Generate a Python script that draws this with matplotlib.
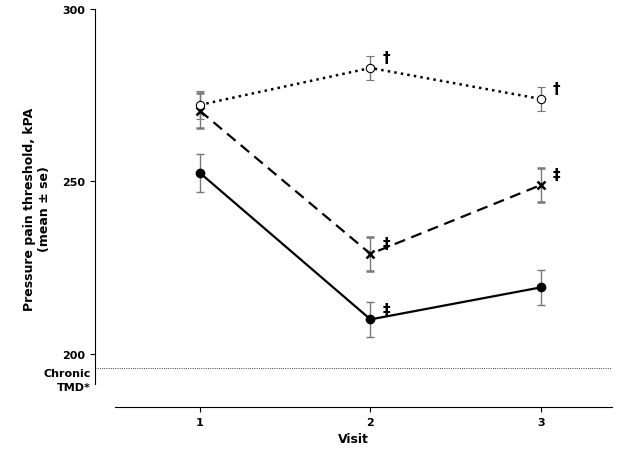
import matplotlib
matplotlib.use("Agg")
import matplotlib.pyplot as plt

visits = [1, 2, 3]
solid = [252.5, 210.0, 219.3]
solid_err = [5.5, 5.0, 5.0]
dashed = [270.5, 229.0, 249.0]
dashed_err = [5.0, 5.0, 5.0]
dotted = [272.2, 282.9, 273.9]
dotted_err = [4.0, 3.5, 3.5]
chronic = 196.0
xticks = [1, 2, 3]
yticks = [200, 250, 300]

fig = plt.figure(figsize=(6.24, 4.52), dpi=100)
ax = fig.add_axes([95/624, 1-408/452, (612-95)/624, (408-10)/452])
ax.set_xlim(0.386, 3.415)
ax.set_ylim(184.6, 300)

kw = dict(color="black", ecolor="#777777", capsize=3, elinewidth=1, markersize=6)
ax.errorbar(visits, solid, yerr=solid_err, fmt="-o", lw=1.6, **kw)
ax.errorbar(visits, dashed, yerr=dashed_err, fmt="--x", lw=1.6, mew=1.8, dashes=(5, 3), **kw)
ax.errorbar(visits, dotted, yerr=dotted_err, fmt=":o", lw=1.8, mfc="white", mew=0.8, **kw)

ax.axhline(chronic, xmin=0, xmax=1, color="black", lw=0.6, ls=":")

for x, y, s in [(2, dotted[1], "†"), (3, dotted[2], "†"), (2, dashed[1], "‡"),
                (3, dashed[2], "‡"), (2, solid[1], "‡")]:
    ax.text(x + 0.07, y + 3, s, fontsize=11, fontweight="bold", va="center")

ax.spines["top"].set_visible(False)
ax.spines["right"].set_visible(False)
ax.spines["left"].set_bounds(191.3, 300)
ax.spines["bottom"].set_bounds(0.503, 3.415)
ax.set_xticks(xticks)
ax.set_yticks(yticks)
ax.tick_params(labelsize=8)
for t in ax.get_xticklabels() + ax.get_yticklabels():
    t.set_fontweight("bold")
ax.set_xlabel("Visit", fontsize=9, fontweight="bold")
ax.set_ylabel("Pressure pain threshold, kPA\n(mean ± se)", fontsize=9, fontweight="bold", labelpad=8)
ax.text(0.36, chronic, "Chronic\nTMD*", fontsize=8, fontweight="bold", ha="right", va="top",
        transform=ax.transData, linespacing=1.6)

fig.savefig("out.png", dpi=100)
